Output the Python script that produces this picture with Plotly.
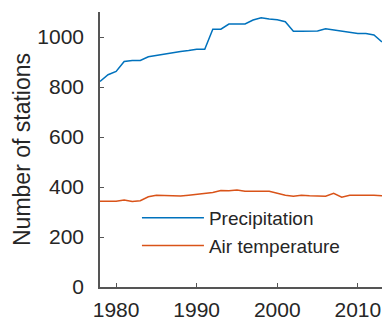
import plotly.graph_objects as go

years = list(range(1978, 2014))
precipitation = [822, 849, 862, 902, 906, 906, 921, 927, 932, 936, 942, 946, 951, 951,
                 1031, 1031, 1052, 1052, 1052, 1068, 1077, 1072, 1069, 1061, 1023, 1023,
                 1022, 1024, 1033, 1028, 1025, 1019, 1014, 1014, 1008, 980]
air_temperature = [343, 343, 343, 348, 342, 345, 361, 367, 365, 365, 364, 367, 370, 375,
                   378, 386, 385, 388, 383, 383, 383, 383, 375, 367, 363, 367, 365, 364,
                   363, 375, 359, 367, 368, 368, 367, 365]
x_ticks = [1980, 1990, 2000, 2010]
y_ticks = [0, 200, 400, 600, 800, 1000]

FONT = "Liberation Sans, Arial"
fig = go.Figure()
fig.add_trace(go.Scatter(x=years, y=precipitation, mode="lines", name="Precipitation",
                         line=dict(color="#0072BD", width=1.5)))
fig.add_trace(go.Scatter(x=years, y=air_temperature, mode="lines", name="Air temperature",
                         line=dict(color="#D95319", width=1.5)))

axis_common = dict(showgrid=False, zeroline=False, showline=True, linecolor="#555555",
                   linewidth=1.5, ticks="inside", ticklen=4, tickcolor="#555555",
                   tickfont=dict(family=FONT, size=21, color="#262626"))

fig.update_layout(
    width=382, height=324,
    margin=dict(l=100, r=0, t=12, b=37),
    paper_bgcolor="white", plot_bgcolor="white",
    xaxis=dict(range=[1978, 2013], tickvals=x_ticks, ticklabelstandoff=3, **axis_common),
    yaxis=dict(range=[0, 1100], tickvals=y_ticks, ticklabelstandoff=10,
               title=dict(text="Number of stations", standoff=0,
                          font=dict(family=FONT, size=23, color="#262626")),
               **axis_common),
    legend=dict(x=0.131, y=0.32, xanchor="left", yanchor="top",
                bgcolor="rgba(0,0,0,0)", font=dict(family=FONT, size=19, color="#262626"),
                itemwidth=62, tracegroupgap=0),
    showlegend=True,
)

fig.write_html("out.html")
